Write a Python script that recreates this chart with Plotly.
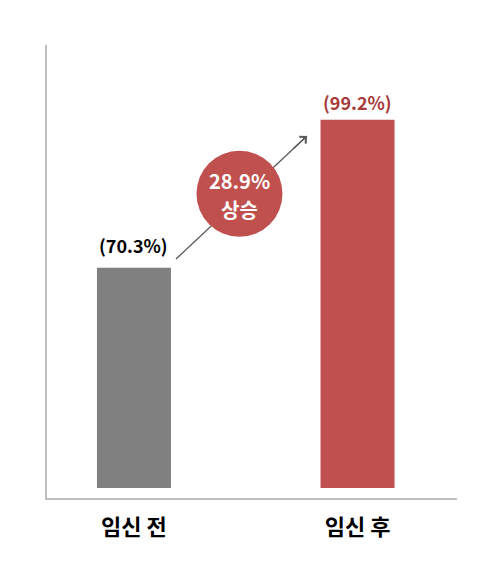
import plotly.graph_objects as go

# === data ===
categories = ["임신 전", "임신 후"]
values = [70.3, 99.2]
bar_colors = ["#808080", "#c0504d"]
label_colors = ["#000000", "#a83a3a"]

FONT = "Noto Sans CJK KR"
BASE = 27.3  # bars start a little above the axis line

x_pos = list(range(len(categories)))
change = values[1] - values[0]

fig = go.Figure()

# bars
fig.add_trace(go.Bar(
    x=x_pos,
    y=[v - BASE for v in values],
    base=BASE,
    width=0.331,
    marker=dict(color=bar_colors, line=dict(width=0)),
    hoverinfo="skip",
))

# arrow shaft (drawn under the circle)
arrow_start = (0.188, values[0] + 1.7)
arrow_end = (0.774, values[1] - 3.15)
fig.add_trace(go.Scatter(
    x=[arrow_start[0], arrow_end[0]],
    y=[arrow_start[1], arrow_end[1]],
    mode="lines",
    line=dict(color="#595959", width=1.3),
    hoverinfo="skip",
))

# circle badge with the increase
badge_x, badge_y = 0.472, sum(values) / 2
fig.add_trace(go.Scatter(
    x=[badge_x],
    y=[badge_y],
    mode="markers",
    marker=dict(size=86, color="#c0504d", line=dict(width=0)),
    hoverinfo="skip",
))
for txt, dy in [(f"{change:.1f}%", 13), ("상승", -16)]:
    fig.add_annotation(
        x=badge_x, y=badge_y, text=f"<b>{txt}</b>",
        showarrow=False, yshift=dy, borderpad=0,
        font=dict(family=FONT, size=20, color="white"),
    )

# arrow head
fig.add_annotation(
    x=arrow_end[0], y=arrow_end[1],
    ax=-15, ay=14,
    showarrow=True, arrowhead=4, arrowsize=1.4, arrowwidth=1.3,
    arrowcolor="#595959", text="",
)

# value labels above bars
shifts = [8, 3]
for i, v in enumerate(values):
    fig.add_annotation(
        x=x_pos[i], y=v,
        text=f"<b>({v}%)</b>",
        showarrow=False, yanchor="bottom", yshift=shifts[i],
        font=dict(family=FONT, size=18, color=label_colors[i]),
    )

fig.update_layout(
    width=492,
    height=557,
    margin=dict(l=39, r=43, t=37, b=67),
    plot_bgcolor="white",
    paper_bgcolor="white",
    showlegend=False,
    font=dict(family=FONT),
)

fig.update_xaxes(
    range=[-0.389, 1.445],
    tickvals=x_pos,
    ticktext=[f"<b>{c}</b>" for c in categories],
    tickfont=dict(family=FONT, size=22, color="black"),
    showline=True, linecolor="#bfbfbf", linewidth=1.5,
    showgrid=False, zeroline=False,
    ticks="", ticklabelstandoff=9,
)
fig.update_yaxes(
    range=[25.35, 113.8],
    showline=True, linecolor="#bfbfbf", linewidth=1.5,
    showgrid=False, zeroline=False,
    showticklabels=False, ticks="",
)

fig.write_html("out.html")
